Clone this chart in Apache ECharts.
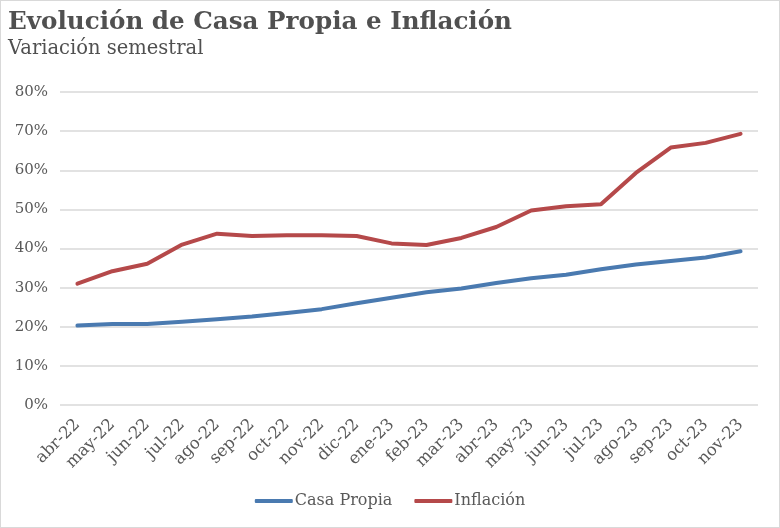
<!DOCTYPE html>
<html><head><meta charset="utf-8">
<script src="https://cdn.jsdelivr.net/npm/echarts@6/dist/echarts.min.js"></script>
<style>html,body{margin:0;padding:0;background:#fff}#c{width:778px;height:526px;border:1px solid #d9d9d9}</style>
</head><body><div id="c"></div>
<script>
const categories = ['abr-22','may-22','jun-22','jul-22','ago-22','sep-22','oct-22','nov-22','dic-22','ene-23','feb-23','mar-23','abr-23','may-23','jun-23','jul-23','ago-23','sep-23','oct-23','nov-23'];
const casaPropia = [20.3,20.7,20.7,21.3,21.9,22.6,23.5,24.5,26.0,27.4,28.8,29.8,31.2,32.4,33.3,34.7,35.9,36.8,37.7,39.3];
const inflacion = [31.0,34.2,36.1,41.0,43.8,43.2,43.4,43.4,43.2,41.3,40.9,42.7,45.5,49.7,50.8,51.3,59.3,65.8,67.0,69.3];
const yTicks = {min:0, max:80, interval:10};
const chart = echarts.init(document.getElementById('c'));
const serif = 'DejaVu Serif';
chart.setOption({
  animation:false,
  title:[{text:'Evolución de Casa Propia e Inflación', left:2, top:4, textStyle:{fontFamily:serif, fontWeight:'bold', fontSize:24.6, color:'#505050'}},
         {text:'Variación semestral', left:2, top:33, textStyle:{fontFamily:serif, fontWeight:'normal', fontSize:19.5, color:'#505050'}}],
  grid:{left:59, right:21, top:91, bottom:122},
  legend:{bottom:13, left:'center', itemWidth:38, itemHeight:4, itemGap:22, icon:'roundRect',
    textStyle:{fontFamily:serif, fontSize:16, color:'#595959', padding:[0,0,0,-3]},
    data:['Casa Propia','Inflación']},
  xAxis:{type:'category', data:categories, boundaryGap:true,
    axisLine:{show:false}, axisTick:{show:false},
    axisLabel:{rotate:45, interval:0, fontFamily:serif, fontSize:16.5, color:'#595959', margin:17}},
  yAxis:{type:'value', min:yTicks.min, max:yTicks.max, interval:yTicks.interval,
    axisLine:{show:false}, axisTick:{show:false},
    splitLine:{lineStyle:{color:'#d9d9d9', width:1.5}},
    axisLabel:{formatter:'{value}%', fontFamily:serif, fontSize:15, color:'#595959', margin:12}},
  series:[
    {name:'Casa Propia', type:'line', data:casaPropia, symbol:'none', lineStyle:{width:4, color:'#4a7ab0', cap:'round', join:'round'}, itemStyle:{color:'#4a7ab0'}},
    {name:'Inflación', type:'line', data:inflacion, symbol:'none', lineStyle:{width:4, color:'#b5494a', cap:'round', join:'round'}, itemStyle:{color:'#b5494a'}}
  ]
});
</script></body></html>
